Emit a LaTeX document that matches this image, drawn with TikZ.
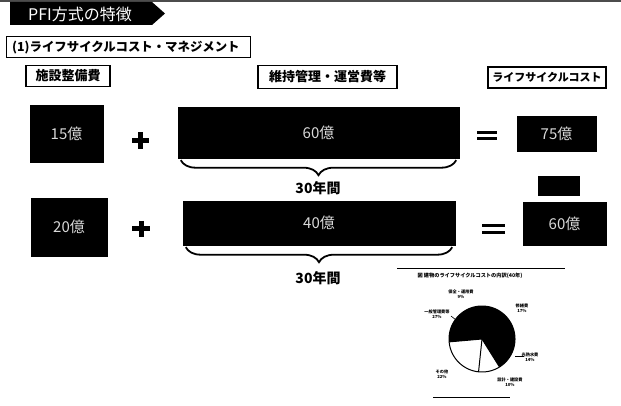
\documentclass[tikz,border=0pt]{standalone}
\usepackage{fontspec}
\newfontfamily\jp{Noto Sans CJK JP}
\usetikzlibrary{decorations.pathreplacing}
\begin{document}
\begin{tikzpicture}[x=1pt,y=-1pt,
  lbl/.style={draw,line width=1.3pt,inner sep=0pt,font=\jp\bfseries\fontsize{13}{13}\selectfont},
  blk/.style={fill=black,draw=black,inner sep=0pt,text=white!85!black,font=\jp\fontsize{15}{15}\selectfont},
  opsign/.style={line width=5pt},
  eqsign/.style={line width=3pt},
  brc/.style={decorate,decoration={brace,mirror,amplitude=15pt},line width=1.8pt},
  yrs/.style={font=\jp\bfseries\fontsize{14}{14}\selectfont},
  tiny/.style={font=\jp\bfseries\fontsize{4.2}{4.6}\selectfont,align=center,inner sep=0pt}]
\useasboundingbox (0,0) rectangle (621,406);
% top rule
\draw[line width=1.2pt,black!70] (0,1) -- (621,1);
% title banner
\fill[black] (10,2) -- (152,2) -- (165,13.5) -- (152,25) -- (10,25) -- cycle;
\node[text=white,font=\jp\fontsize{16}{16}\selectfont,inner sep=0pt] (title) at (80,14) {PFI方式の特徴};
% section
\node[draw,line width=1pt,minimum width=244pt,minimum height=21pt,inner sep=0pt] (sec) at (128,47.5) {};
\node[font=\jp\bfseries\fontsize{12.4}{12.4}\selectfont,anchor=west,inner sep=0pt] (sectext) at (12,47.5) {(1)ライフサイクルコスト・マネジメント};
% header labels
\node[lbl,minimum width=84pt,minimum height=21pt] (h1) at (68,76) {施設整備費};
\node[lbl,minimum width=139pt,minimum height=23pt] (h2) at (327.5,77) {維持管理・運営費等};
\node[lbl,minimum width=118pt,minimum height=21pt,font=\jp\bfseries\fontsize{11}{11}\selectfont] (h3) at (547,77.5) {ライフサイクルコスト};
% row 1
\node[blk,minimum width=73pt,minimum height=57pt] (a1) at (66.5,133.5) {15億};
\node[blk,minimum width=281pt,minimum height=51pt] (b1) at (318.5,132.5) {60億};
\node[blk,minimum width=79pt,minimum height=35pt] (c1) at (556.5,133.5) {75億};
\draw[opsign] (132,140.5) -- (149,140.5) (140.5,132.5) -- (140.5,149);
\draw[eqsign] (477,132.5) -- (497,132.5) (477,139) -- (497,139);
\coordinate (br1a) at ([shift={(3,2)}]b1.south west);
\coordinate (br1b) at ([shift={(-3,2)}]b1.south east);
\draw[brc] (br1a) -- (br1b);
\node[yrs] (y1) at (318,188) {30年間};
% small box
\node[blk,minimum width=41pt,minimum height=19pt] (s) at (558.5,185.5) {};
% row 2
\node[blk,minimum width=76pt,minimum height=58pt] (a2) at (69,227) {20億};
\node[blk,minimum width=272pt,minimum height=44pt] (b2) at (319,223) {40億};
\node[blk,minimum width=83pt,minimum height=43pt] (c2) at (564.5,223.5) {60億};
\draw[opsign] (132,229) -- (150,229) (141,221) -- (141,237);
\draw[eqsign] (482,226) -- (505,226) (482,233) -- (505,233);
\coordinate (br2a) at ([shift={(3,2)}]b2.south west);
\coordinate (br2b) at ([shift={(-3,2)}]b2.south east);
\draw[brc] (br2a) -- (br2b);
\node[yrs] (y2) at (318,278) {30年間};
% pie chart caption
\draw[line width=0.8pt] (397,268) -- (565,268);
\node[font=\jp\bfseries\fontsize{5.2}{5.2}\selectfont,inner sep=0pt] (cap) at (470,275.5) {図 建物のライフサイクルコストの内訳(40年)};
% pie
\begin{scope}[shift={(482,339)},yscale=-1]
  \fill[black] (0,0) -- plot[domain=-58:185,samples=80] ({33*cos(\x)},{33*sin(\x)}) -- cycle;
  \draw[line width=1pt] plot[domain=0:360,samples=120] ({33*cos(\x)},{33*sin(\x)}) -- cycle;
  \draw[line width=1pt] (0,0) -- ({33*cos(185)},{33*sin(185)});
  \draw[line width=1pt] (0,0) -- ({33*cos(264)},{33*sin(264)});
  \draw[line width=1pt] (0,0) -- ({33*cos(302)},{33*sin(302)});
\end{scope}
\node[tiny] (p1) at (461,294) {保全・運用費\\9\%};
\node[tiny] (p2) at (437,314) {一般管理費等\\27\%};
\node[tiny] (p3) at (522,308) {修繕費\\17\%};
\node[tiny] (p4) at (530,357) {光熱水費\\14\%};
\node[tiny] (p5) at (510,382) {設計・建設費\\10\%};
\node[tiny] (p6) at (442,374) {その他\\22\%};
\draw[line width=0.6pt] (451,316) -- (456,320);
\draw[line width=0.8pt] (515,356) -- (524,356);
\draw[line width=1pt] (433,397) -- (510,397);
\end{tikzpicture}
\end{document}
